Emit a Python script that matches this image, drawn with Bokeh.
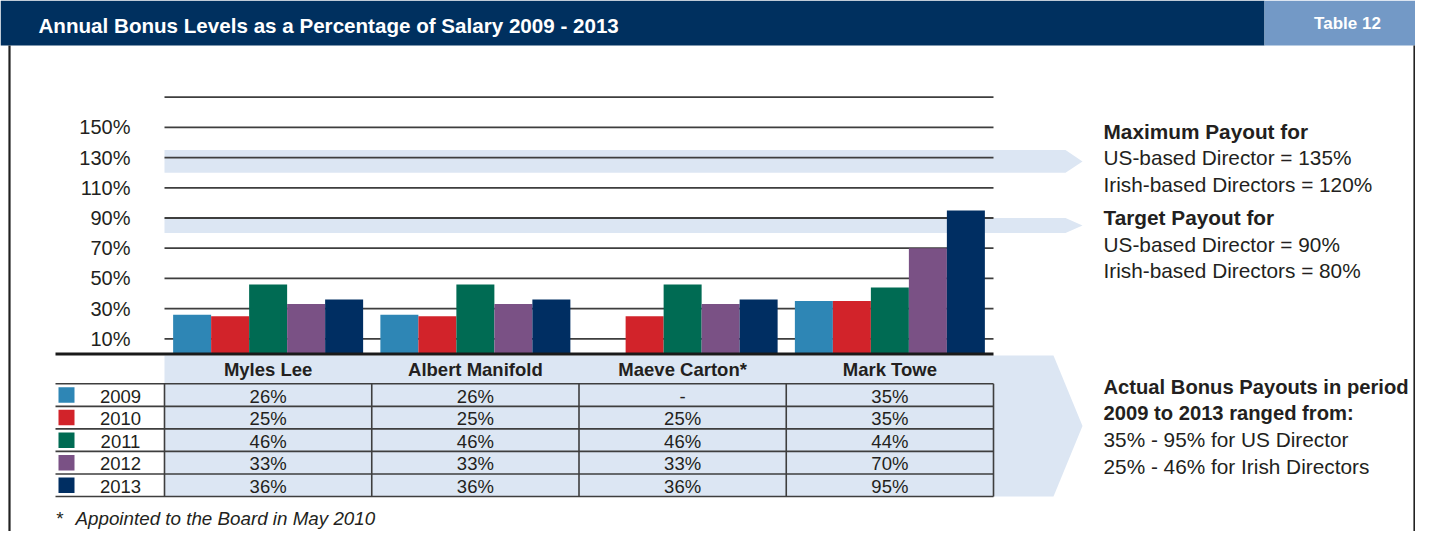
from bokeh.plotting import figure
from bokeh.models import Range1d
from bokeh.core.properties import value
from bokeh.embed import file_html
from bokeh.resources import INLINE

# ---------------- data ----------------
title = "Annual Bonus Levels as a Percentage of Salary 2009 - 2013"
table_tag = "Table 12"
directors = ["Myles Lee", "Albert Manifold", "Maeve Carton*", "Mark Towe"]
years = ["2009", "2010", "2011", "2012", "2013"]
bonus_2009 = [26, 26, None, 35]
bonus_2010 = [25, 25, 25, 35]
bonus_2011 = [46, 46, 46, 44]
bonus_2012 = [33, 33, 33, 70]
bonus_2013 = [36, 36, 36, 95]
year_colors = ["#2E86B5", "#D2232A", "#006B53", "#7A5185", "#002E62"]
grid_ticks = [10, 30, 50, 70, 90, 110, 130, 150, 170]
tick_labels = ["10%", "30%", "50%", "70%", "90%", "110%", "130%", "150%"]
max_payout_band = [120, 135]
target_payout_band = [80, 90]
max_text = ["Maximum Payout for", "US-based Director = 135%", "Irish-based Directors = 120%"]
target_text = ["Target Payout for", "US-based Director = 90%", "Irish-based Directors = 80%"]
actual_text = ["Actual Bonus Payouts in period", "2009 to 2013 ranged from:",
               "35% - 95% for US Director", "25% - 46% for Irish Directors"]
footnote_mark = "*"
footnote = "Appointed to the Board in May 2010"

series = [bonus_2009, bonus_2010, bonus_2011, bonus_2012, bonus_2013]

# ---------------- layout ----------------
W, H = 1415, 531
X0, PXU = 164.0, 207.25    # x: one director group per unit
Y0, PXP = 353.4, 1.51      # y: percent


def X(px):
    return (px - X0) / PXU


def Y(py):
    return (Y0 - py) / PXP


FONT = value("Liberation Sans")
TXT = "#231F20"
NAVY = "#00305F"
LIGHT = "#DCE6F3"
LINE = "#3E3E3E"

p = figure(width=W, height=H, output_backend="svg", toolbar_location=None,
           x_range=Range1d(X(0), X(W)), y_range=Range1d(Y(H), Y(0)),
           x_axis_location=None, y_axis_location=None, min_border=0,
           outline_line_color=None, background_fill_color="white",
           border_fill_color="white")
p.grid.visible = False

# title bar
p.quad(left=X(0), right=X(1264), top=Y(0), bottom=Y(45), fill_color=NAVY, line_color=None)
p.quad(left=X(1264), right=X(1431), top=Y(0), bottom=Y(45), fill_color="#7399C6", line_color=None)
p.text(x=X(38), y=Y(24.5), text=[title], text_color="white", text_font=FONT,
       text_font_size="20.6px", text_font_style="bold", text_baseline="middle")
p.text(x=X(1347), y=Y(23.3), text=[table_tag], text_color="white", text_font=FONT,
       text_font_size="17px", text_font_style="bold", text_align="center",
       text_baseline="middle")

# frame borders
p.segment(x0=[X(9), X(1414)], x1=[X(9), X(1414)], y0=Y(45), y1=Y(547),
          line_color="#222222", line_width=2.2)

# table chevron background
p.patch(x=[X(164), X(1053), X(1082), X(1053), X(164)],
        y=[Y(355), Y(355), Y(425.5), Y(496), Y(496)], fill_color=LIGHT, line_color=None)

# payout bands with arrow heads
for lo, hi in (max_payout_band, target_payout_band):
    mid = (lo + hi) / 2
    p.patch(x=[X(164), X(1065), X(1082), X(1065), X(164)], y=[hi, hi, mid, lo, lo],
            fill_color=LIGHT, line_color=None)

# gridlines
p.segment(x0=0, x1=len(directors), y0=grid_ticks, y1=grid_ticks,
          line_color=LINE, line_width=1.8)
p.text(x=X(130), y=grid_ticks[:len(tick_labels)], text=tick_labels, text_color=TXT,
       text_font=FONT, text_font_size="20px", text_align="right",
       text_baseline="middle")

# bars
BW = 38 / PXU
for j, (vals, col) in enumerate(zip(series, year_colors)):
    xs = [i + 0.5 + (j - 2) * BW for i, v in enumerate(vals) if v is not None]
    tops = [v for v in vals if v is not None]
    p.vbar(x=xs, top=tops, bottom=0, width=BW, fill_color=col, line_color=None)

# baseline
p.segment(x0=X(55), x1=len(directors), y0=0, y1=0, line_color="#1A1A1A", line_width=3)

# table
ROW0, RH = 383.3, 22.54
row_edges = [ROW0 + k * RH for k in range(len(years) + 1)]
p.segment(x0=X(55), x1=len(directors), y0=[Y(r) for r in row_edges],
          y1=[Y(r) for r in row_edges], line_color=LINE, line_width=1.6)
p.segment(x0=list(range(len(directors) + 1)), x1=list(range(len(directors) + 1)),
          y0=Y(row_edges[0]), y1=Y(row_edges[-1]), line_color=LINE, line_width=1.6)

p.text(x=[i + 0.5 for i in range(len(directors))], y=Y(368.5), text=directors,
       text_color=TXT, text_font=FONT, text_font_size="18.5px", text_font_style="bold",
       text_align="center", text_baseline="middle")

centers = [ROW0 + (k + 0.5) * RH for k in range(len(years))]
p.rect(x=X(66), y=[Y(c) for c in centers], width=16, height=15.5,
       width_units="screen", height_units="screen", fill_color=year_colors, line_color=None)
p.text(x=X(120), y=[Y(c + 1.2) for c in centers], text=years, text_color=TXT, text_font=FONT,
       text_font_size="18.5px", text_align="center", text_baseline="middle")
for k, vals in enumerate(series):
    labels = ["-" if v is None else f"{v}%" for v in vals]
    p.text(x=[i + 0.5 for i in range(len(directors))], y=Y(centers[k] + 1.2), text=labels,
           text_color=TXT, text_font=FONT, text_font_size="18.5px", text_align="center",
           text_baseline="middle")


# right-hand notes
def note(lines, first_center, n_bold, bold_size="20.8px"):
    for k, s in enumerate(lines):
        p.text(x=X(1103), y=Y(first_center + k * 26.5), text=[s], text_color=TXT,
               text_font=FONT, text_font_size=bold_size if k < n_bold else "20.8px",
               text_font_style="bold" if k < n_bold else "normal",
               text_baseline="middle")


note(max_text, 130.5, 1)
note(target_text, 217.3, 1)
note(actual_text, 386.0, 2, bold_size="20.2px")

# footnote
p.text(x=X(55), y=Y(518), text=[footnote_mark], text_color=TXT, text_font=FONT,
       text_font_size="18.8px", text_font_style="italic", text_baseline="middle")
p.text(x=X(75), y=Y(518), text=[footnote], text_color=TXT, text_font=FONT,
       text_font_size="18.8px", text_font_style="italic", text_baseline="middle")

open("out.html", "w").write(file_html(p, INLINE))
